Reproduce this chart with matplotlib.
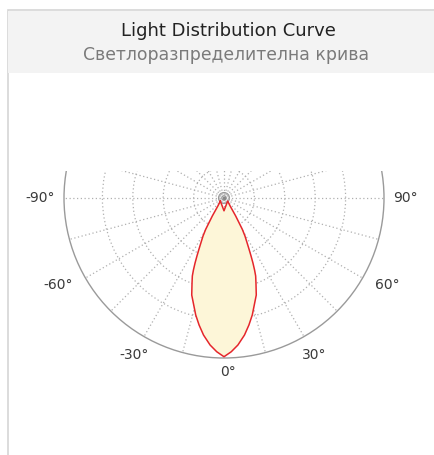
import numpy as np
import matplotlib
matplotlib.use("Agg")
import matplotlib.pyplot as plt
from matplotlib.patches import Rectangle, Circle

title = "Light Distribution Curve"
subtitle = "Светлоразпределителна крива"

# relative intensity, one half of the symmetric beam (gamma measured from nadir)
gamma = [0, 2.7, 5.4, 8.5, 11.1, 13.6, 15.8, 18.4, 20.6, 22.1, 23.0, 24.0, 25.0, 26.1,
         27.3, 28.9, 30.3, 33, 38, 50]
intensity = [0.992, 0.962, 0.923, 0.866, 0.809, 0.752, 0.695, 0.639, 0.568, 0.526, 0.489,
             0.445, 0.40, 0.355, 0.314, 0.271, 0.227, 0.134, 0.06, 0.03]
nadir_dip = 0.08   # closing point of the polygon on the nadir line

rings = [0.19, 0.38, 0.57, 0.76]
center_rings = [0.014, 0.034]
spoke_step = 15
tick_angles = [-90, -60, -30, 0, 30, 60, 90]
tick_labels = ["-90°", "-60°", "-30°", "0°", "30°", "60°", "90°"]

W, H = 434, 455
fig = plt.figure(figsize=(W / 100, H / 100), dpi=100)

# card frame + header band
fig.patches.append(Rectangle((7.5 / W, -0.1), 1, (H - 10) / H + 0.1, transform=fig.transFigure,
                             facecolor="white", edgecolor="#d6d6d6", lw=1.2, zorder=0))
fig.patches.append(Rectangle((8 / W, (H - 73) / H), 1, 62 / H, transform=fig.transFigure,
                             facecolor="#f3f3f3", edgecolor="none", zorder=1))
fig.text(228 / W, 1 - 31 / H, title, ha="center", va="center", fontsize=13, color="#222222")
fig.text(226 / W, 1 - 55 / H, subtitle, ha="center", va="center", fontsize=12.4, color="#7a7a7a")

# polar diagram drawn on cartesian axes, center at pixel (224, 198), 160 px per unit
cx, cy, scale = 224, 198, 160
left, right, top, bottom = 40, 420, 171, 395
ax = fig.add_axes([left / W, (H - bottom) / H, (right - left) / W, (bottom - top) / H])
ax.set_zorder(5)
ax.set_xlim((left - cx) / scale, (right - cx) / scale)
ax.set_ylim((cy - bottom) / scale, (cy - top) / scale)
ax.axis("off")

def to_xy(deg, r):
    t = np.radians(deg)
    return r * np.sin(t), -r * np.cos(t)

grid_kw = dict(color="#b0b0b0", lw=0.9, linestyle=(0, (1, 2)))
for r in rings:
    ax.add_patch(Circle((0, 0), r, fill=False, **grid_kw))
for a in range(0, 360, spoke_step):
    x, y = to_xy(a, 1.0)
    ax.plot([0, x], [0, y], **grid_kw)
ax.add_patch(Circle((0, 0), 1.0, fill=False, color="#9a9a9a", lw=1.0))
for r in center_rings:
    ax.add_patch(Circle((0, 0), r, fill=False, color="#999999", lw=0.9))
ax.plot(0, 0, marker="o", ms=1.5, color="#888888")

# beam outline: left half, right half, then the nadir dip that closes it
ang = [-g for g in gamma[::-1]] + gamma[1:] + [0]
val = intensity[::-1] + intensity[1:] + [nadir_dip]
bx, by = to_xy(np.array(ang), np.array(val))
ax.fill(bx, by, facecolor="#fdf6d8", edgecolor="none", zorder=3)
ax.plot(np.append(bx, bx[0]), np.append(by, by[0]), color="#e5262b", lw=1.1, zorder=4,
        solid_joinstyle="round")

for a, lab in zip(tick_angles, tick_labels):
    if abs(a) >= 60:
        ha = "right" if a < 0 else "left"
        r = 1.06 if abs(a) == 90 else 1.09
    else:
        ha = "center"
        r = 1.09 if a == 0 else 1.13
    x, y = to_xy(a, r)
    if a == 0:
        x += 4 / scale
    ax.text(x, y, lab, ha=ha, va="center", fontsize=10, color="#3a3a3a", clip_on=False)

fig.savefig("out.png", dpi=100)
